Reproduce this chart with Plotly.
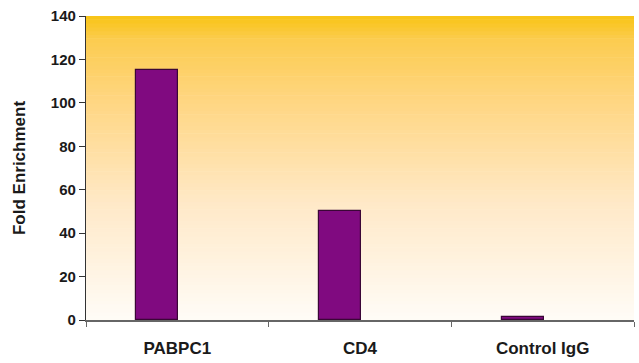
import plotly.graph_objects as go

categories = ["PABPC1", "CD4", "Control IgG"]
values = [115, 50, 1.2]
y_ticks = [0, 20, 40, 60, 80, 100, 120, 140]

# background gradient stops (fraction from bottom, rgb)
stops = [(0.0, (255, 252, 247)), (0.38, (255, 233, 200)), (0.72, (255, 214, 130)),
         (0.92, (252, 204, 80)), (1.0, (248, 196, 20))]

def col(f):
    for (f0, c0), (f1, c1) in zip(stops[:-1], stops[1:]):
        if f0 <= f <= f1:
            t = (f - f0) / (f1 - f0)
            return "rgb(%d,%d,%d)" % tuple(round(a + (b - a) * t) for a, b in zip(c0, c1))
    return "rgb(%d,%d,%d)" % stops[-1][1]

n = 80
shapes = []
for i in range(n):
    y0 = i / n
    y1 = (i + 1) / n + 0.002
    shapes.append(dict(type="rect", xref="x domain", yref="y domain", x0=0, x1=1,
                       y0=y0, y1=min(y1, 1), fillcolor=col((i + 0.5) / n),
                       line=dict(width=0), layer="below"))

fig = go.Figure()
fig.add_trace(go.Bar(
    x=categories, y=values,
    width=0.23, offset=-0.225,
    marker=dict(color="#800A80", line=dict(color="#3A0636", width=1.2)),
))

FAM = "Liberation Sans, Arial, sans-serif"
fig.update_layout(
    width=639, height=363,
    margin=dict(l=86, r=5, t=16, b=43, autoexpand=False),
    paper_bgcolor="white", plot_bgcolor="white",
    shapes=shapes, showlegend=False,
    font=dict(family=FAM, size=13, color="#222222"),
    bargap=0,
)
fig.update_xaxes(
    automargin=False,
    showline=True, linecolor="#666666", linewidth=1.5,
    ticks="outside", tickson="boundaries", ticklen=5, tickcolor="#666666",
    ticklabelstandoff=12,
    tickfont=dict(family=FAM, size=17, color="#1a1a1a", weight="bold"),
    showgrid=False, zeroline=False,
)
fig.update_yaxes(
    automargin=False,
    range=[0, 140], tickvals=y_ticks,
    showline=True, linecolor="#333333", linewidth=1.2,
    ticks="outside", ticklen=6, tickcolor="#333333",
    tickfont=dict(family=FAM, size=15, color="#1a1a1a", weight="bold"),
    title=dict(text="Fold Enrichment", standoff=20,
               font=dict(family=FAM, size=17, color="#1a1a1a", weight="bold")),
    showgrid=False, zeroline=False,
)
fig.write_html("out.html", config={"displayModeBar": False})

with open("out.html", encoding="utf-8") as f:
    html = f.read()
html = html.replace("<body>", '<body style="margin:0;padding:0;overflow:hidden">', 1)
with open("out.html", "w", encoding="utf-8") as f:
    f.write(html)
